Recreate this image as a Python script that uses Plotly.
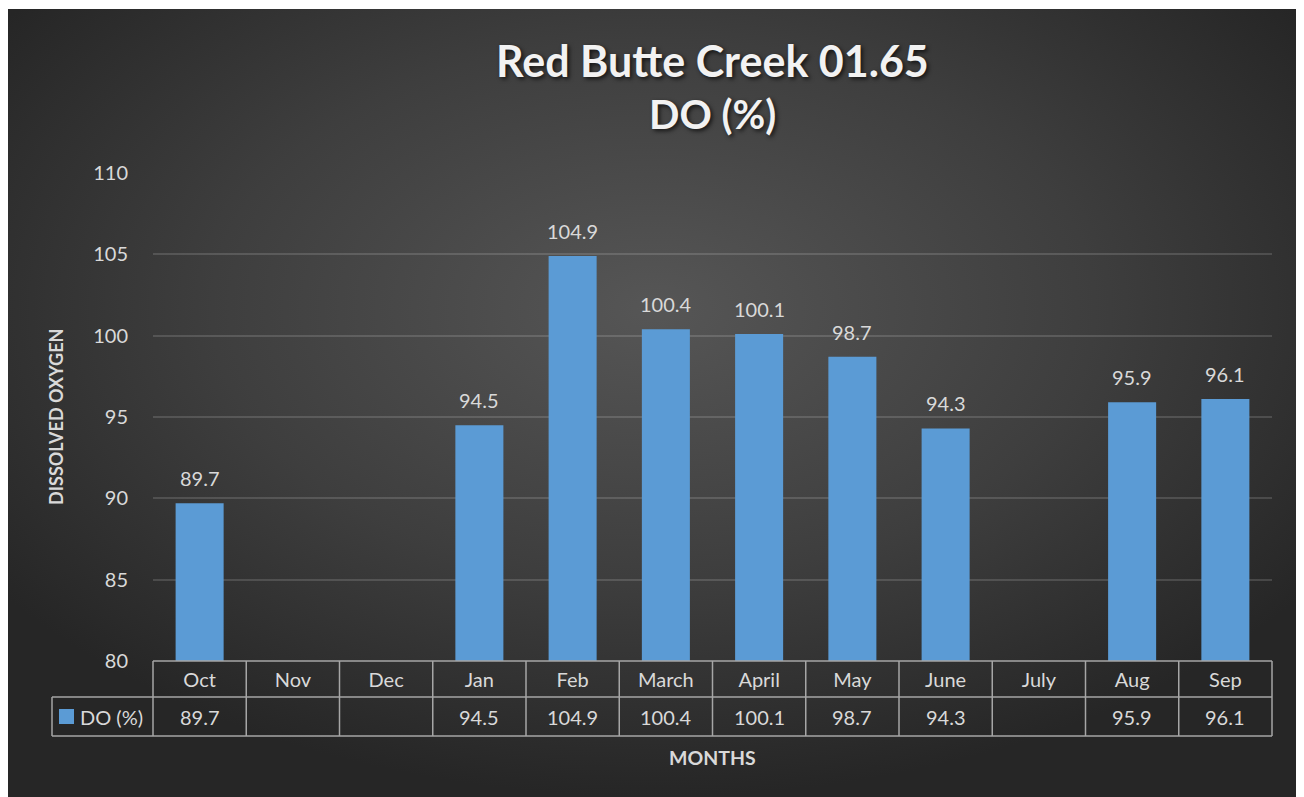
import base64
import plotly.graph_objects as go

months = ["Oct", "Nov", "Dec", "Jan", "Feb", "March", "April", "May", "June", "July", "Aug", "Sep"]
do_values = [89.7, None, None, 94.5, 104.9, 100.4, 100.1, 98.7, 94.3, None, 95.9, 96.1]
y_ticks = [80, 85, 90, 95, 100, 105, 110]
series_name = "DO (%)"
title_line1 = "Red Butte Creek 01.65"
title_line2 = "DO (%)"
x_title = "MONTHS"
y_title = "DISSOLVED OXYGEN"

# page body has an 8px margin; figure is laid out in reference pixel space minus that offset
OFF = 8
W, H = 1304 - OFF, 797 - OFF
L, T = 153 - OFF, 173 - OFF
PW = 1272 - 153
PH = 661 - 173
R, B = W - L - PW, H - T - PH


def px_x(px):
    return (px - 153) / PW


def px_y(py):
    return (661 - py) / PH


TEXT = "#d9d9d9"
GRID = "rgba(255,255,255,0.14)"
TABLE = "#a6a6a6"
BAR = "#5B9BD5"
FONT = "Lato, 'Open Sans', sans-serif"

svg = (
    '<svg xmlns="http://www.w3.org/2000/svg" width="1295" height="788" viewBox="0 0 1295 788" preserveAspectRatio="none">'
    '<defs><radialGradient id="g" cx="50%" cy="38%" r="62%">'
    '<stop offset="0" stop-color="#565656"/>'
    '<stop offset="0.55" stop-color="#3e3e3e"/>'
    '<stop offset="1" stop-color="#262626"/>'
    '</radialGradient></defs>'
    '<rect width="1295" height="788" fill="url(#g)"/></svg>'
)
bg_uri = "data:image/svg+xml;base64," + base64.b64encode(svg.encode()).decode()

fig = go.Figure()
fig.add_trace(go.Bar(
    x=months, y=do_values, name=series_name,
    marker=dict(color=BAR, line=dict(width=0)),
    width=0.515, showlegend=False, hoverinfo="x+y",
))

shapes = []
annotations = []

# data labels above bars
for m, v in zip(months, do_values):
    if v is not None:
        annotations.append(dict(x=m, y=v, xref="x", yref="y", text=f"{v:.1f}",
                                showarrow=False, yshift=25, font=dict(size=20, color=TEXT, family=FONT)))

# data table
y_hdr_bot = px_y(697)
y_row_bot = px_y(736)
x_leg = px_x(52)
line = dict(color=TABLE, width=1.5)
shapes.append(dict(type="line", xref="paper", yref="paper", x0=0, x1=1, y0=0, y1=0, line=line))
shapes.append(dict(type="line", xref="paper", yref="paper", x0=x_leg, x1=1, y0=y_hdr_bot, y1=y_hdr_bot, line=line))
shapes.append(dict(type="line", xref="paper", yref="paper", x0=x_leg, x1=1, y0=y_row_bot, y1=y_row_bot, line=line))
shapes.append(dict(type="line", xref="paper", yref="paper", x0=x_leg, x1=x_leg, y0=y_hdr_bot, y1=y_row_bot, line=line))
for i in range(len(months) + 1):
    xp = i / len(months)
    shapes.append(dict(type="line", xref="paper", yref="paper", x0=xp, x1=xp, y0=0, y1=y_row_bot, line=line))
# legend key
shapes.append(dict(type="rect", xref="paper", yref="paper", x0=px_x(59), x1=px_x(74), y0=px_y(709), y1=px_y(724),
                   fillcolor=BAR, line=dict(width=0)))
annotations.append(dict(x=px_x(78), y=px_y(717), xref="paper", yref="paper", text=series_name, showarrow=False,
                        xanchor="left", yanchor="middle", font=dict(size=20, color=TEXT, family=FONT)))
for m, v in zip(months, do_values):
    annotations.append(dict(x=m, y=px_y(717), xref="x", yref="paper", text="" if v is None else f"{v:.1f}",
                            showarrow=False, yanchor="middle", font=dict(size=20, color=TEXT, family=FONT)))

# titles
shadow = "2px 2px 4px rgba(0,0,0,0.7)"
annotations.append(dict(x=0.5, y=px_y(61), xref="paper", yref="paper", text=f"<b>{title_line1}</b>", showarrow=False,
                        yanchor="middle", font=dict(size=43, color="#f2f2f2", family=FONT, shadow=shadow)))
annotations.append(dict(x=0.5, y=px_y(114), xref="paper", yref="paper", text=f"<b>{title_line2}</b>", showarrow=False,
                        yanchor="middle", font=dict(size=40, color="#f2f2f2", family=FONT, shadow=shadow)))
annotations.append(dict(x=0.5, y=px_y(757), xref="paper", yref="paper", text=f"<b>{x_title}</b>", showarrow=False,
                        yanchor="middle", font=dict(size=19.5, color=TEXT, family=FONT)))
annotations.append(dict(x=px_x(56), y=px_y(417), xref="paper", yref="paper", text=f"<b>{y_title}</b>", showarrow=False,
                        textangle=-90, xanchor="center", yanchor="middle", font=dict(size=18, color=TEXT, family=FONT)))

fig.update_layout(
    width=W, height=H,
    margin=dict(l=L, r=R, t=T, b=B, pad=0),
    paper_bgcolor="white",
    plot_bgcolor="rgba(0,0,0,0)",
    font=dict(family=FONT, color=TEXT, size=20),
    bargap=0.485,
    shapes=shapes,
    annotations=annotations,
    images=[dict(source=bg_uri, xref="paper", yref="paper", x=px_x(6), y=px_y(9),
                 sizex=px_x(1301) - px_x(6), sizey=px_y(9) - px_y(797),
                 xanchor="left", yanchor="top", sizing="stretch", layer="below")],
    xaxis=dict(showgrid=False, zeroline=False, showline=False, ticks="outside", ticklen=1,
               tickcolor="rgba(0,0,0,0)", tickfont=dict(size=20, color=TEXT, family=FONT),
               fixedrange=True),
    yaxis=dict(range=[80, 110], tickvals=y_ticks, showgrid=True, gridcolor=GRID, gridwidth=1.5,
               zeroline=False, showline=False, ticks="outside", ticklen=20, tickcolor="rgba(0,0,0,0)",
               tickfont=dict(size=20, color=TEXT, family=FONT), fixedrange=True),
)

fig.write_html("out.html")
